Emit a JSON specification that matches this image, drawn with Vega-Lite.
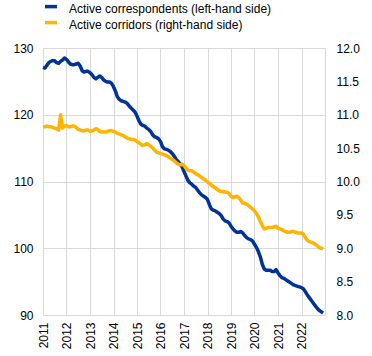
{
"$schema": "https://vega.github.io/schema/vega-lite/v6.json",
"width": 282, "height": 267,
"autosize": "none",
"padding": {"left": 43, "top": 48, "right": 47, "bottom": 41},
"background": "white",
"config": {"font": "Arial", "view": {"stroke": null},
 "axis": {"labelFont": "Arial", "labelFontSize": 12, "labelColor": "#000000", "ticks": false, "gridColor": "#d9d9d9", "gridWidth": 1, "domain": false, "title": null},
 "axisX": {"labelOverlap": false, "labelBound": false},
 "legend": {"labelFont": "Arial"}},
"data": {"values": [
{"d":"2011-01-01","a":127.1,"c":10.82},{"d":"2011-02-01","a":127.0,"c":10.82},{"d":"2011-03-01","a":127.4,"c":10.83},{"d":"2011-04-01","a":127.8,"c":10.82},{"d":"2011-05-01","a":128.0,"c":10.82},{"d":"2011-06-01","a":128.1,"c":10.81},{"d":"2011-07-01","a":128.1,"c":10.80},{"d":"2011-08-01","a":127.8,"c":10.79},{"d":"2011-09-01","a":127.7,"c":10.77},{"d":"2011-10-01","a":128.0,"c":11.00},{"d":"2011-11-01","a":128.2,"c":10.80},{"d":"2011-12-01","a":128.5,"c":10.83},
{"d":"2012-01-01","a":128.3,"c":10.84},{"d":"2012-02-01","a":127.9,"c":10.82},{"d":"2012-03-01","a":127.6,"c":10.82},{"d":"2012-04-01","a":127.5,"c":10.83},{"d":"2012-05-01","a":127.5,"c":10.83},{"d":"2012-06-01","a":127.6,"c":10.81},{"d":"2012-07-01","a":127.7,"c":10.78},{"d":"2012-08-01","a":127.3,"c":10.77},{"d":"2012-09-01","a":126.6,"c":10.76},{"d":"2012-10-01","a":126.4,"c":10.76},{"d":"2012-11-01","a":126.5,"c":10.77},{"d":"2012-12-01","a":126.5,"c":10.77},
{"d":"2013-01-01","a":126.3,"c":10.75},{"d":"2013-02-01","a":126.0,"c":10.76},{"d":"2013-03-01","a":125.6,"c":10.77},{"d":"2013-04-01","a":125.4,"c":10.79},{"d":"2013-05-01","a":125.6,"c":10.78},{"d":"2013-06-01","a":125.8,"c":10.75},{"d":"2013-07-01","a":125.6,"c":10.74},{"d":"2013-08-01","a":125.2,"c":10.74},{"d":"2013-09-01","a":125.0,"c":10.74},{"d":"2013-10-01","a":124.9,"c":10.75},{"d":"2013-11-01","a":124.9,"c":10.76},{"d":"2013-12-01","a":124.7,"c":10.76},
{"d":"2014-01-01","a":124.2,"c":10.75},{"d":"2014-02-01","a":123.5,"c":10.74},{"d":"2014-03-01","a":122.7,"c":10.72},{"d":"2014-04-01","a":122.3,"c":10.71},{"d":"2014-05-01","a":122.1,"c":10.70},{"d":"2014-06-01","a":122.0,"c":10.69},{"d":"2014-07-01","a":121.9,"c":10.67},{"d":"2014-08-01","a":121.7,"c":10.65},{"d":"2014-09-01","a":121.3,"c":10.64},{"d":"2014-10-01","a":121.0,"c":10.63},{"d":"2014-11-01","a":120.7,"c":10.63},{"d":"2014-12-01","a":120.4,"c":10.62},
{"d":"2015-01-01","a":119.8,"c":10.60},{"d":"2015-02-01","a":119.1,"c":10.58},{"d":"2015-03-01","a":118.6,"c":10.56},{"d":"2015-04-01","a":118.4,"c":10.54},{"d":"2015-05-01","a":118.3,"c":10.55},{"d":"2015-06-01","a":118.0,"c":10.57},{"d":"2015-07-01","a":117.8,"c":10.55},{"d":"2015-08-01","a":117.5,"c":10.53},{"d":"2015-09-01","a":117.0,"c":10.50},{"d":"2015-10-01","a":116.7,"c":10.47},{"d":"2015-11-01","a":116.6,"c":10.44},{"d":"2015-12-01","a":116.4,"c":10.43},
{"d":"2016-01-01","a":116.0,"c":10.42},{"d":"2016-02-01","a":115.2,"c":10.41},{"d":"2016-03-01","a":114.9,"c":10.40},{"d":"2016-04-01","a":114.8,"c":10.39},{"d":"2016-05-01","a":114.7,"c":10.37},{"d":"2016-06-01","a":114.5,"c":10.35},{"d":"2016-07-01","a":114.2,"c":10.33},{"d":"2016-08-01","a":113.8,"c":10.31},{"d":"2016-09-01","a":113.3,"c":10.28},{"d":"2016-10-01","a":113.0,"c":10.26},{"d":"2016-11-01","a":112.6,"c":10.25},{"d":"2016-12-01","a":112.2,"c":10.26},
{"d":"2017-01-01","a":111.5,"c":10.24},{"d":"2017-02-01","a":110.8,"c":10.20},{"d":"2017-03-01","a":110.2,"c":10.17},{"d":"2017-04-01","a":109.8,"c":10.16},{"d":"2017-05-01","a":109.6,"c":10.16},{"d":"2017-06-01","a":109.3,"c":10.14},{"d":"2017-07-01","a":109.1,"c":10.12},{"d":"2017-08-01","a":108.7,"c":10.10},{"d":"2017-09-01","a":108.3,"c":10.08},{"d":"2017-10-01","a":108.0,"c":10.06},{"d":"2017-11-01","a":107.8,"c":10.04},{"d":"2017-12-01","a":107.6,"c":10.02},
{"d":"2018-01-01","a":107.3,"c":9.99},{"d":"2018-02-01","a":106.5,"c":9.97},{"d":"2018-03-01","a":105.9,"c":9.95},{"d":"2018-04-01","a":105.7,"c":9.92},{"d":"2018-05-01","a":105.6,"c":9.91},{"d":"2018-06-01","a":105.4,"c":9.88},{"d":"2018-07-01","a":105.2,"c":9.86},{"d":"2018-08-01","a":104.9,"c":9.85},{"d":"2018-09-01","a":104.4,"c":9.85},{"d":"2018-10-01","a":104.1,"c":9.84},{"d":"2018-11-01","a":104.0,"c":9.84},{"d":"2018-12-01","a":103.8,"c":9.82},
{"d":"2019-01-01","a":103.3,"c":9.78},{"d":"2019-02-01","a":102.9,"c":9.76},{"d":"2019-03-01","a":102.6,"c":9.77},{"d":"2019-04-01","a":102.4,"c":9.78},{"d":"2019-05-01","a":102.4,"c":9.76},{"d":"2019-06-01","a":102.5,"c":9.72},{"d":"2019-07-01","a":102.3,"c":9.68},{"d":"2019-08-01","a":101.9,"c":9.67},{"d":"2019-09-01","a":101.6,"c":9.66},{"d":"2019-10-01","a":101.4,"c":9.64},{"d":"2019-11-01","a":101.3,"c":9.61},{"d":"2019-12-01","a":101.1,"c":9.59},
{"d":"2020-01-01","a":100.6,"c":9.56},{"d":"2020-02-01","a":100.1,"c":9.52},{"d":"2020-03-01","a":99.5,"c":9.47},{"d":"2020-04-01","a":98.7,"c":9.40},{"d":"2020-05-01","a":97.6,"c":9.34},{"d":"2020-06-01","a":96.9,"c":9.29},{"d":"2020-07-01","a":96.7,"c":9.30},{"d":"2020-08-01","a":96.7,"c":9.31},{"d":"2020-09-01","a":96.7,"c":9.31},{"d":"2020-10-01","a":96.5,"c":9.31},{"d":"2020-11-01","a":96.5,"c":9.32},{"d":"2020-12-01","a":96.8,"c":9.33},
{"d":"2021-01-01","a":96.3,"c":9.30},{"d":"2021-02-01","a":95.9,"c":9.29},{"d":"2021-03-01","a":95.6,"c":9.28},{"d":"2021-04-01","a":95.5,"c":9.26},{"d":"2021-05-01","a":95.3,"c":9.25},{"d":"2021-06-01","a":95.1,"c":9.24},{"d":"2021-07-01","a":94.9,"c":9.24},{"d":"2021-08-01","a":94.7,"c":9.25},{"d":"2021-09-01","a":94.5,"c":9.25},{"d":"2021-10-01","a":94.4,"c":9.24},{"d":"2021-11-01","a":94.3,"c":9.23},{"d":"2021-12-01","a":94.2,"c":9.23},
{"d":"2022-01-01","a":94.1,"c":9.23},{"d":"2022-02-01","a":93.9,"c":9.21},{"d":"2022-03-01","a":93.5,"c":9.16},{"d":"2022-04-01","a":93.0,"c":9.12},{"d":"2022-05-01","a":92.6,"c":9.10},{"d":"2022-06-01","a":92.2,"c":9.09},{"d":"2022-07-01","a":91.8,"c":9.08},{"d":"2022-08-01","a":91.4,"c":9.06},{"d":"2022-09-01","a":91.0,"c":9.04},{"d":"2022-10-01","a":90.7,"c":9.01},{"d":"2022-11-01","a":90.5,"c":9.00},{"d":"2022-12-01","a":90.3,"c":8.99}
]},
"encoding": {
  "x": {"field": "d", "type": "temporal",
   "scale": {"type": "utc", "domain": [{"year": 2011, "month": 1, "date": 1, "utc": true}, {"year": 2023, "month": 1, "date": 1, "utc": true}]},
   "axis": {"grid": true, "format": "%Y", "formatType": "utc", "labelAngle": 270, "labelAlign": "right", "labelBaseline": "middle", "labelPadding": 7, "labelOverlap": false,
    "values": [{"year":2011,"utc":true},{"year":2012,"utc":true},{"year":2013,"utc":true},{"year":2014,"utc":true},{"year":2015,"utc":true},{"year":2016,"utc":true},{"year":2017,"utc":true},{"year":2018,"utc":true},{"year":2019,"utc":true},{"year":2020,"utc":true},{"year":2021,"utc":true},{"year":2022,"utc":true},{"year":2023,"utc":true}],
    "labelExpr": "utcyear(datum.value) > 2022 ? '' : datum.label"}}
},
"layer": [
{"mark": {"type": "line", "strokeWidth": 3.5, "strokeJoin": "round", "strokeCap": "butt"},
 "encoding": {
  "y": {"field": "a", "type": "quantitative", "scale": {"domain": [90, 130], "nice": false, "zero": false},
   "axis": {"orient": "left", "values": [90, 100, 110, 120, 130], "grid": true, "labelPadding": 10}},
  "color": {"datum": "Active correspondents (left-hand side)", "type": "nominal",
   "scale": {"domain": ["Active correspondents (left-hand side)", "Active corridors (right-hand side)"], "range": ["#003299", "#ffb400"]},
   "legend": {"orient": "none", "legendX": 0, "legendY": -47, "direction": "vertical", "title": null, "padding": 0,
    "symbolType": "M-1,-0.4L1,-0.4", "symbolSize": 144, "symbolStrokeWidth": 3.5, "labelFontSize": 12, "labelColor": "#000000", "labelOffset": 10, "labelLimit": 400, "rowPadding": 0}}
 }},
{"mark": {"type": "line", "strokeWidth": 3.5, "strokeJoin": "round", "strokeCap": "butt"},
 "encoding": {
  "y": {"field": "c", "type": "quantitative", "scale": {"domain": [8, 12], "nice": false, "zero": false},
   "axis": {"orient": "right", "values": [8, 8.5, 9, 9.5, 10, 10.5, 11, 11.5, 12], "format": ".1f", "grid": false, "labelPadding": 11}},
  "color": {"datum": "Active corridors (right-hand side)", "type": "nominal"}
 }}
],
"resolve": {"scale": {"y": "independent"}}
}
